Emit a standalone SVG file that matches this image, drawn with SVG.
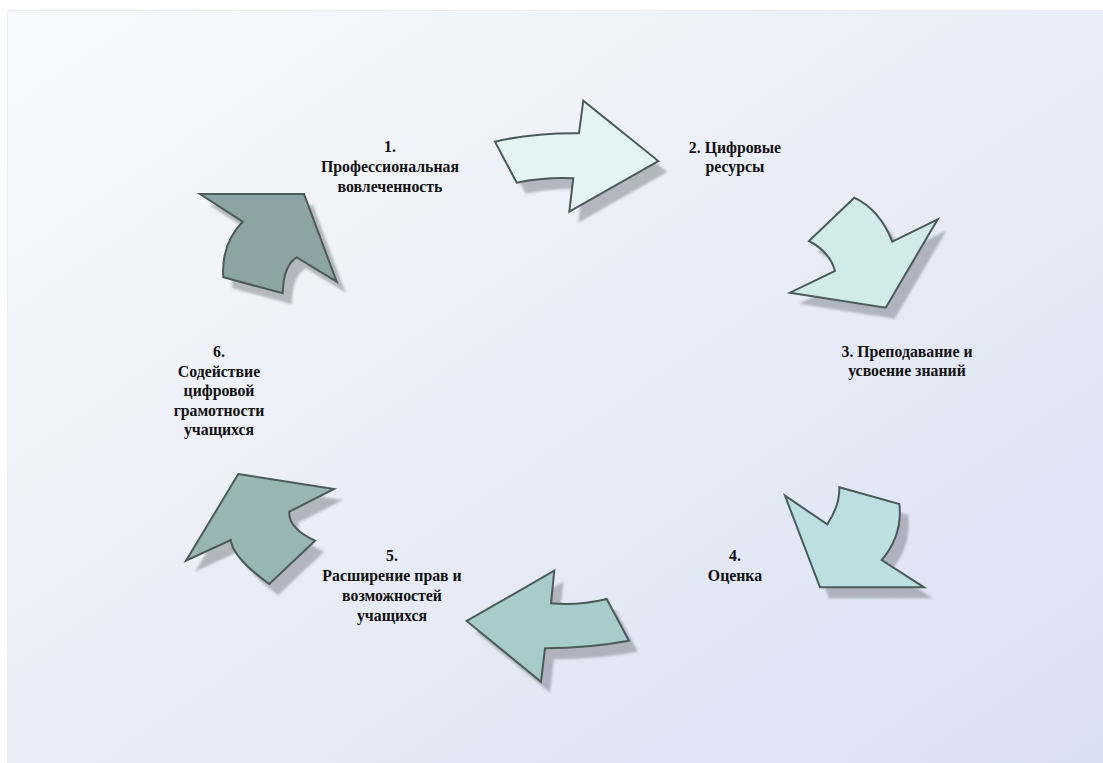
<svg xmlns="http://www.w3.org/2000/svg" width="1103" height="763" viewBox="0 0 1103 763">
  <defs>
    <linearGradient id="bg" x1="0" y1="0" x2="1" y2="1">
      <stop offset="0" stop-color="#F9FAFD"/>
      <stop offset="1" stop-color="#D9E0F2"/>
    </linearGradient>
    <filter id="soft" x="-10%" y="-10%" width="120%" height="120%">
      <feGaussianBlur stdDeviation="1.2"/>
    </filter>
  </defs>
  <style>
    .arrow { stroke: #4B5A5A; stroke-width: 2; stroke-linejoin: miter; }
    .shadow { fill: #7C7F88; opacity: 0.5; filter: url(#soft); }
    .label { font-family: "Liberation Serif", "Times New Roman", serif; font-weight: bold; font-size: 15.8px; fill: #111; text-anchor: middle; }
  </style>

  <!-- canvas -->
  <rect x="0" y="0" width="1103" height="763" fill="#FFFFFF"/>
  <rect x="7.5" y="10.5" width="1100" height="760" fill="url(#bg)" stroke="#ECECEC" stroke-width="1"/>

  <!-- arrow outlines, reused for the shadow and the fill -->
  <defs>
    <path id="a1" d="M495,141.7 Q530,133 579,133.3 L583.3,100.7 L658.3,161 L569.3,211.7 L573.3,178.3 Q545,177 516.7,182.7 Z"/>
    <path id="a2" d="M854.3,197.7 Q880,210 892.3,241.7 L937.7,219.3 L885.7,307.7 L790,292.7 L835,271 Q830,252 809,241 Z"/>
    <path id="a3" d="M839.3,487.3 L899.3,504 Q903,535 881.7,560 L924,587.3 L820,587.3 L785,495.7 L827.3,524.3 Q840,505 839.3,487.3 Z"/>
    <path id="a4" d="M554.3,570.7 L551,603.3 Q578,606 606.7,599 L629,640.7 Q590,648 545,648.3 L541,681.7 L466.7,621 Z"/>
    <path id="a5" d="M238.3,474 L334,489 L289.3,511.7 Q288,528 315,540.7 L269.3,584 Q233,558 230.7,540 L186,560.7 Z"/>
    <path id="a6" d="M200,194 L304,194 L336.7,281.7 L296.7,257.3 Q283.5,265 282.7,293.3 L223.3,277.3 Q221,244 242.7,221.7 Z"/>
  </defs>

  <g id="connectors">
    <g id="arrow-1-2">
      <use href="#a1" class="shadow" transform="translate(9,11)"/>
      <use href="#a1" class="arrow" fill="#E4F4F4"/>
    </g>
    <g id="arrow-2-3">
      <use href="#a2" class="shadow" transform="translate(9,11)"/>
      <use href="#a2" class="arrow" fill="#D1EAEA"/>
    </g>
    <g id="arrow-3-4">
      <use href="#a3" class="shadow" transform="translate(9,11)"/>
      <use href="#a3" class="arrow" fill="#BCE0E2"/>
    </g>
    <g id="arrow-4-5">
      <use href="#a4" class="shadow" transform="translate(9,11)"/>
      <use href="#a4" class="arrow" fill="#A8CBCB"/>
    </g>
    <g id="arrow-5-6">
      <use href="#a5" class="shadow" transform="translate(9,11)"/>
      <use href="#a5" class="arrow" fill="#99B6B6"/>
    </g>
    <g id="arrow-6-1">
      <use href="#a6" class="shadow" transform="translate(9,11)"/>
      <use href="#a6" class="arrow" fill="#8CA4A5"/>
    </g>
  </g>

  <!-- stage labels -->
  <g id="node-1">
    <text class="label" x="390" y="152">1.</text>
    <text class="label" x="390" y="172">Профессиональная</text>
    <text class="label" x="390" y="192">вовлеченность</text>
  </g>
  <g id="node-2">
    <text class="label" x="735" y="153">2. Цифровые</text>
    <text class="label" x="735" y="172">ресурсы</text>
  </g>
  <g id="node-3">
    <text class="label" x="907" y="357">3. Преподавание и</text>
    <text class="label" x="907" y="376">усвоение знаний</text>
  </g>
  <g id="node-4">
    <text class="label" x="735" y="561">4.</text>
    <text class="label" x="735" y="581">Оценка</text>
  </g>
  <g id="node-5">
    <text class="label" x="392" y="561">5.</text>
    <text class="label" x="392" y="581">Расширение прав и</text>
    <text class="label" x="392" y="601">возможностей</text>
    <text class="label" x="392" y="621">учащихся</text>
  </g>
  <g id="node-6">
    <text class="label" x="219" y="357">6.</text>
    <text class="label" x="219" y="377">Содействие</text>
    <text class="label" x="219" y="396">цифровой</text>
    <text class="label" x="219" y="416">грамотности</text>
    <text class="label" x="219" y="435">учащихся</text>
  </g>
</svg>
